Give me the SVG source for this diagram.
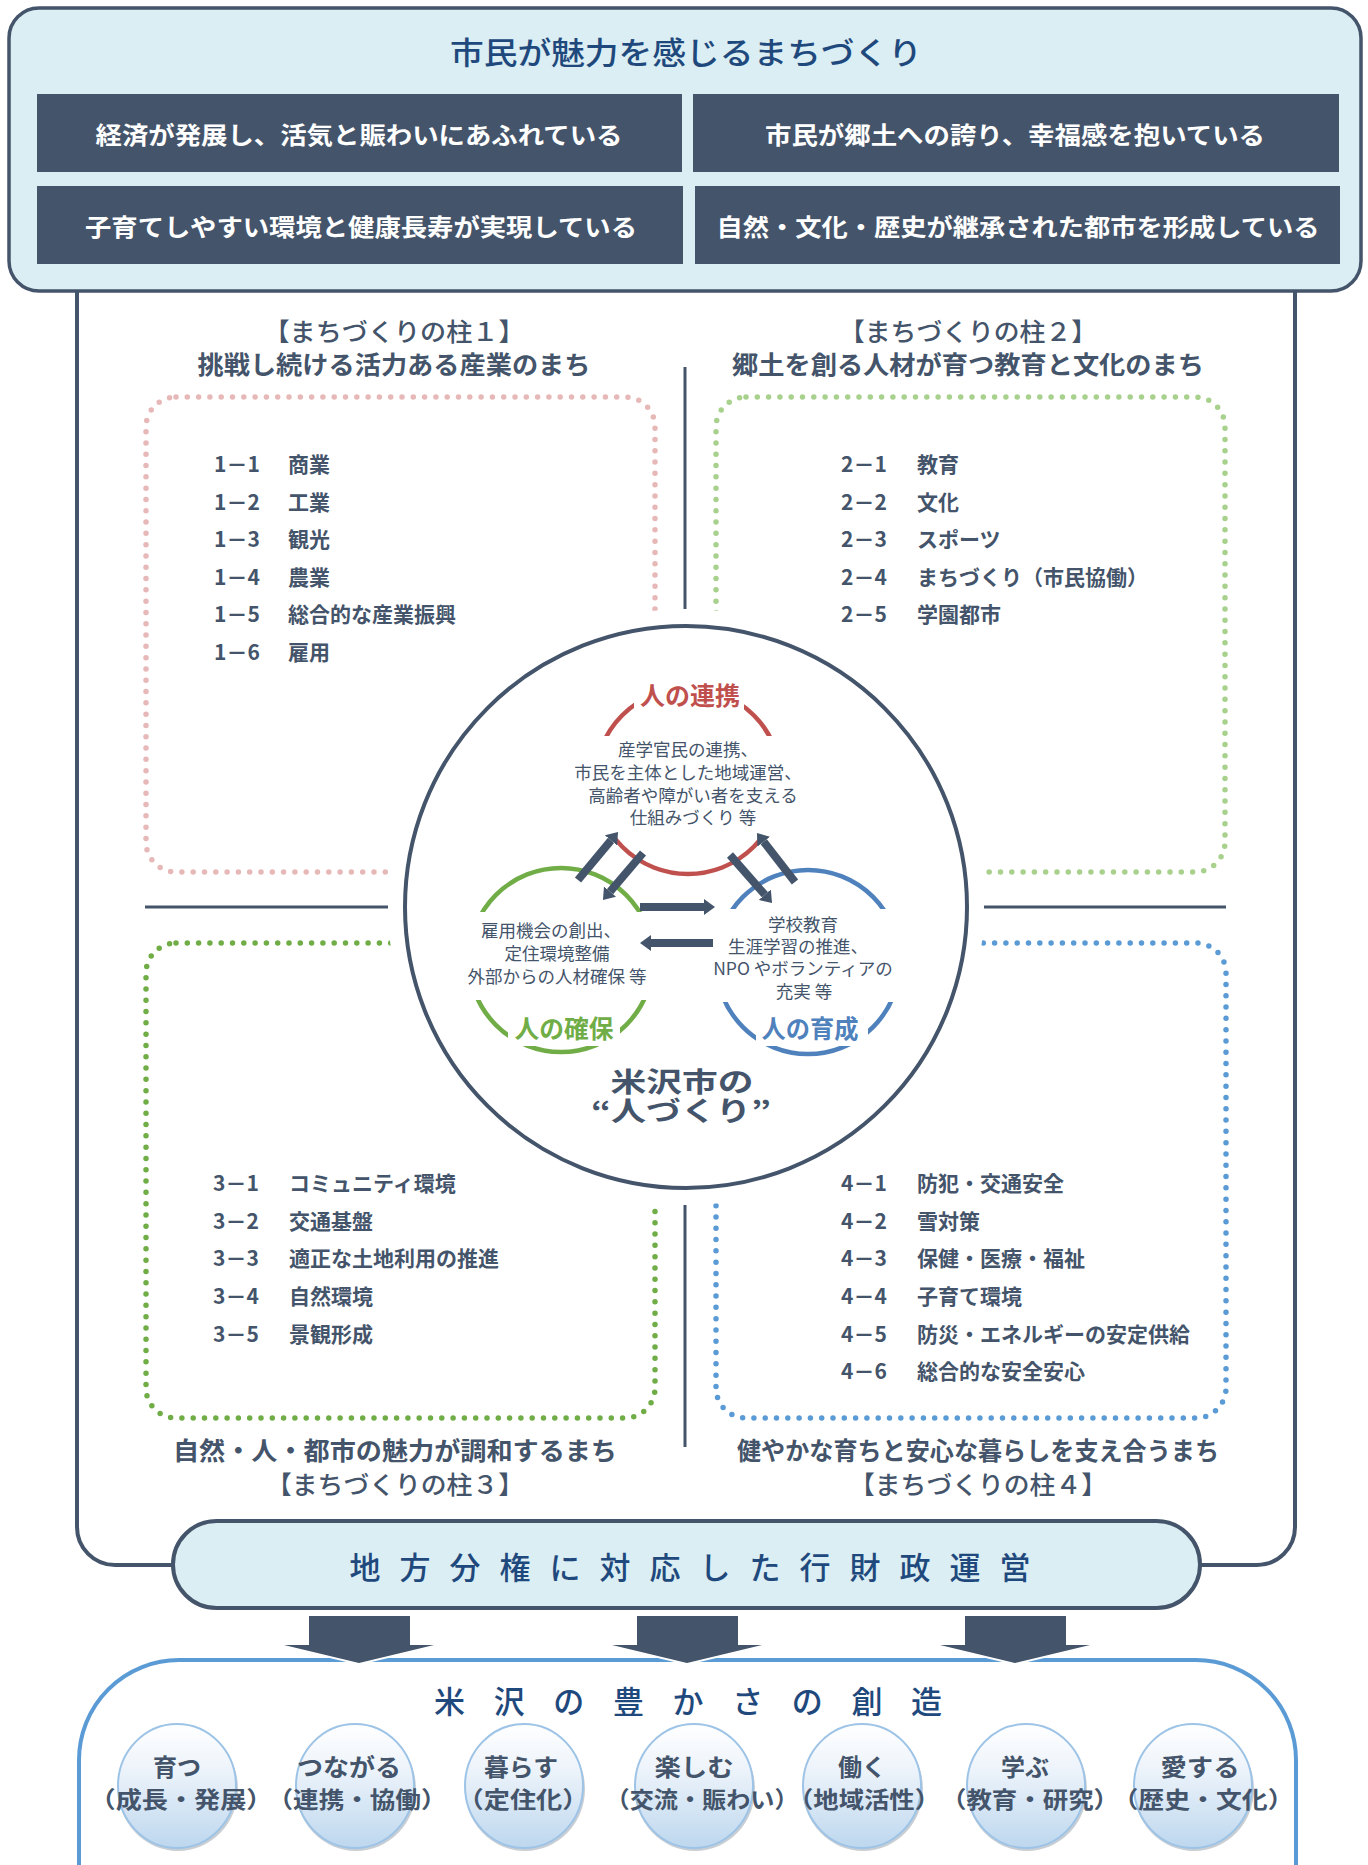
<svg xmlns="http://www.w3.org/2000/svg" width="1368" height="1865" viewBox="0 0 1368 1865">
<defs>
<style>
text{font-family:"Noto Sans CJK JP","Noto Sans CJK SC",sans-serif;dominant-baseline:central;}
.ttl{fill:#1f497d;font-size:31px;font-weight:500;text-anchor:middle;}
.goal{fill:#ffffff;font-size:24px;font-weight:bold;text-anchor:middle;}
.goalbox{fill:#44546a;}
.h1{fill:#44546a;font-size:25px;font-weight:500;text-anchor:middle;}
.h2{fill:#44546a;font-size:25px;font-weight:bold;text-anchor:middle;}
.item{fill:#44546a;font-size:21px;font-weight:bold;}
.dot{fill:none;stroke-width:5.5;stroke-linecap:round;stroke-dasharray:0 11.3;}
.div{stroke:#44546a;stroke-width:3;}
.desc{fill:#44546a;font-size:17.5px;text-anchor:middle;}
.lbl{font-size:25px;font-weight:bold;text-anchor:middle;}
.ring{fill:none;stroke-width:4.5;}
.wb{fill:#ffffff;}
.carrow{stroke:#44546a;stroke-width:8;marker-end:url(#ah);}
.darrow{fill:#44546a;stroke:#ffffff;stroke-width:4;paint-order:stroke;}
.bub{fill:url(#bubg);stroke:#9dc3e6;stroke-width:2;}
.bubsh{fill:#9aa5b1;opacity:0.55;}
.b1{fill:#44546a;font-size:24px;font-weight:bold;text-anchor:middle;}
.b2{fill:#44546a;font-size:23px;font-weight:bold;text-anchor:middle;}
</style>
<linearGradient id="bubg" x1="0" y1="0" x2="0" y2="1">
<stop offset="0" stop-color="#ffffff"/>
<stop offset="0.35" stop-color="#eef4fb"/>
<stop offset="1" stop-color="#bdd7ee"/>
</linearGradient>
<marker id="ah" viewBox="0 0 11 16" markerWidth="11" markerHeight="16" refX="0" refY="8" orient="auto" markerUnits="userSpaceOnUse">
<path d="M0,0 L11,8 L0,16 z" fill="#44546a"/>
</marker>
</defs>

<rect x="0" y="0" width="1368" height="1865" fill="#ffffff"/>

<g id="outer-frame">
<path d="M77,270 V1527 A38,38 0 0 0 115,1565 H1257 A38,38 0 0 0 1295,1527 V270" fill="#ffffff" stroke="#44546a" stroke-width="4"/>
</g>

<g id="top-box">
<rect x="9" y="8" width="1352" height="283" rx="30" fill="#daeef3" stroke="#44546a" stroke-width="3.5"/>
<text class="ttl" x="686" y="50" textLength="472" lengthAdjust="spacingAndGlyphs">市民が魅力を感じるまちづくり</text>
</g>
<g id="goal-1">
<rect class="goalbox" x="37" y="94" width="645" height="78"/>
<text class="goal" x="359" y="133" textLength="527" lengthAdjust="spacingAndGlyphs">経済が発展し、活気と賑わいにあふれている</text>
</g>
<g id="goal-2">
<rect class="goalbox" x="693" y="94" width="646" height="78"/>
<text class="goal" x="1015" y="133" textLength="500" lengthAdjust="spacingAndGlyphs">市民が郷土への誇り、幸福感を抱いている</text>
</g>
<g id="goal-3">
<rect class="goalbox" x="37" y="186" width="646" height="78"/>
<text class="goal" x="361" y="225" textLength="552" lengthAdjust="spacingAndGlyphs">子育てしやすい環境と健康長寿が実現している</text>
</g>
<g id="goal-4">
<rect class="goalbox" x="695" y="186" width="645" height="78"/>
<text class="goal" x="1018" y="225" textLength="603" lengthAdjust="spacingAndGlyphs">自然・文化・歴史が継承された都市を形成している</text>
</g>

<g id="dividers">
<line class="div" x1="685" y1="367" x2="685" y2="1447"/>
<line class="div" x1="145" y1="907" x2="1226" y2="907"/>
</g>

<g id="pillar-1">
<text class="h1" x="394" y="330" textLength="261" lengthAdjust="spacingAndGlyphs">【まちづくりの柱１】</text>
<text class="h2" x="394" y="363" textLength="393" lengthAdjust="spacingAndGlyphs">挑戦し続ける活力ある産業のまち</text>
<rect class="dot" x="146" y="397" width="509" height="475" rx="30" stroke="#e6b9b8"/>
<text class="item" y="463"><tspan x="214">1－1</tspan><tspan x="288">商業</tspan></text>
<text class="item" y="501"><tspan x="214">1－2</tspan><tspan x="288">工業</tspan></text>
<text class="item" y="538"><tspan x="214">1－3</tspan><tspan x="288">観光</tspan></text>
<text class="item" y="576"><tspan x="214">1－4</tspan><tspan x="288">農業</tspan></text>
<text class="item" y="613"><tspan x="214">1－5</tspan><tspan x="288">総合的な産業振興</tspan></text>
<text class="item" y="651"><tspan x="214">1－6</tspan><tspan x="288">雇用</tspan></text>
</g>

<g id="pillar-2">
<text class="h1" x="968" y="330" textLength="258" lengthAdjust="spacingAndGlyphs">【まちづくりの柱２】</text>
<text class="h2" x="968" y="363" textLength="472" lengthAdjust="spacingAndGlyphs">郷土を創る人材が育つ教育と文化のまち</text>
<rect class="dot" x="716" y="397" width="509" height="475" rx="30" stroke="#a9d18e"/>
<text class="item" y="463"><tspan x="841">2－1</tspan><tspan x="917">教育</tspan></text>
<text class="item" y="501"><tspan x="841">2－2</tspan><tspan x="917">文化</tspan></text>
<text class="item" y="538"><tspan x="841">2－3</tspan><tspan x="917">スポーツ</tspan></text>
<text class="item" y="576"><tspan x="841">2－4</tspan><tspan x="917">まちづくり（市民協働）</tspan></text>
<text class="item" y="613"><tspan x="841">2－5</tspan><tspan x="917">学園都市</tspan></text>
</g>

<g id="pillar-3">
<rect class="dot" x="146" y="943" width="509" height="475" rx="30" stroke="#70ad47"/>
<text class="item" y="1182"><tspan x="213">3－1</tspan><tspan x="289">コミュニティ環境</tspan></text>
<text class="item" y="1220"><tspan x="213">3－2</tspan><tspan x="289">交通基盤</tspan></text>
<text class="item" y="1257"><tspan x="213">3－3</tspan><tspan x="289">適正な土地利用の推進</tspan></text>
<text class="item" y="1295"><tspan x="213">3－4</tspan><tspan x="289">自然環境</tspan></text>
<text class="item" y="1333"><tspan x="213">3－5</tspan><tspan x="289">景観形成</tspan></text>
<text class="h2" x="395" y="1449" textLength="444" lengthAdjust="spacingAndGlyphs">自然・人・都市の魅力が調和するまち</text>
<text class="h1" x="395" y="1483" textLength="258" lengthAdjust="spacingAndGlyphs">【まちづくりの柱３】</text>
</g>

<g id="pillar-4">
<rect class="dot" x="716" y="943" width="510" height="475" rx="30" stroke="#5b9bd5"/>
<text class="item" y="1182"><tspan x="841">4－1</tspan><tspan x="917">防犯・交通安全</tspan></text>
<text class="item" y="1220"><tspan x="841">4－2</tspan><tspan x="917">雪対策</tspan></text>
<text class="item" y="1257"><tspan x="841">4－3</tspan><tspan x="917">保健・医療・福祉</tspan></text>
<text class="item" y="1295"><tspan x="841">4－4</tspan><tspan x="917">子育て環境</tspan></text>
<text class="item" y="1333"><tspan x="841">4－5</tspan><tspan x="917">防災・エネルギーの安定供給</tspan></text>
<text class="item" y="1370"><tspan x="841">4－6</tspan><tspan x="917">総合的な安全安心</tspan></text>
<text class="h2" x="978" y="1449" textLength="482" lengthAdjust="spacingAndGlyphs">健やかな育ちと安心な暮らしを支え合うまち</text>
<text class="h1" x="978" y="1483" textLength="258" lengthAdjust="spacingAndGlyphs">【まちづくりの柱４】</text>
</g>

<g id="center">
<circle cx="686" cy="907" r="298" fill="#ffffff"/>
<circle cx="686" cy="907" r="281" fill="#ffffff" stroke="#44546a" stroke-width="4"/>
<circle class="ring" cx="688" cy="781" r="93" stroke="#c0504d"/>
<circle class="ring" cx="561" cy="960" r="92" stroke="#70ad47"/>
<circle class="ring" cx="808" cy="962" r="92" stroke="#4f81bd"/>
<rect class="wb" x="568" y="736" width="244" height="102"/>
<rect class="wb" x="634" y="676" width="110" height="34"/>
<rect class="wb" x="452" y="912" width="210" height="88"/>
<rect class="wb" x="508" y="1010" width="112" height="36"/>
<rect class="wb" x="700" y="909" width="210" height="93"/>
<rect class="wb" x="756" y="1010" width="112" height="36"/>
</g>

<g id="node-renkei">
<text class="lbl" x="690" y="694" fill="#c0504d" textLength="100" lengthAdjust="spacingAndGlyphs">人の連携</text>
<text class="desc" x="688" y="748">産学官民の連携、</text>
<text class="desc" x="688" y="771">市民を主体とした地域運営、</text>
<text class="desc" x="693" y="794">高齢者や障がい者を支える</text>
<text class="desc" x="693" y="816">仕組みづくり 等</text>
</g>
<g id="node-kakuho">
<text class="desc" x="551" y="929">雇用機会の創出、</text>
<text class="desc" x="557" y="952">定住環境整備</text>
<text class="desc" x="557" y="975">外部からの人材確保 等</text>
<text class="lbl" x="564" y="1027" fill="#70ad47" textLength="99" lengthAdjust="spacingAndGlyphs">人の確保</text>
</g>
<g id="node-ikusei">
<text class="desc" x="803" y="923">学校教育</text>
<text class="desc" x="798" y="945">生涯学習の推進、</text>
<text class="desc" x="803" y="967">NPO やボランティアの</text>
<text class="desc" x="804" y="990">充実 等</text>
<text class="lbl" x="810" y="1027" fill="#4f81bd" textLength="97" lengthAdjust="spacingAndGlyphs">人の育成</text>
</g>
<g id="node-hitozukuri">
<text x="682" y="1080" fill="#44546a" font-size="27" font-weight="bold" text-anchor="middle" textLength="143" lengthAdjust="spacingAndGlyphs">米沢市の</text>
<text x="681" y="1109" fill="#44546a" font-size="27" font-weight="bold" text-anchor="middle" textLength="180" lengthAdjust="spacingAndGlyphs">“人づくり”</text>
</g>

<g id="pill">
<rect x="173" y="1521" width="1027" height="87" rx="43.5" fill="#daeef3" stroke="#44546a" stroke-width="4"/>
<text class="ttl" x="690" y="1565" font-size="32" textLength="681" lengthAdjust="spacing">地方分権に対応した行財政運営</text>
</g>

<g id="bottom-box">
<rect x="79" y="1660" width="1217" height="330" rx="100" fill="#ffffff" stroke="#5b9bd5" stroke-width="4"/>
<text class="ttl" x="688" y="1699" font-size="30" textLength="508" lengthAdjust="spacing">米沢の豊かさの創造</text>
</g>

<g id="bubble-1">
<ellipse class="bubsh" cx="178" cy="1789" rx="60" ry="62"/>
<ellipse class="bub" cx="177" cy="1786" rx="59" ry="62"/>
<text class="b1" x="177" y="1765">育つ</text>
<text class="b2" x="181" y="1798" textLength="183" lengthAdjust="spacingAndGlyphs">（成長・発展）</text>
</g>
<g id="bubble-2">
<ellipse class="bubsh" cx="356" cy="1789" rx="60" ry="62"/>
<ellipse class="bub" cx="355" cy="1786" rx="59" ry="62"/>
<text class="b1" x="349" y="1765" textLength="104" lengthAdjust="spacingAndGlyphs">つながる</text>
<text class="b2" x="357" y="1798" textLength="179" lengthAdjust="spacingAndGlyphs">（連携・協働）</text>
</g>
<g id="bubble-3">
<ellipse class="bubsh" cx="525" cy="1789" rx="60" ry="62"/>
<ellipse class="bub" cx="524" cy="1786" rx="59" ry="62"/>
<text class="b1" x="521" y="1765" textLength="74" lengthAdjust="spacingAndGlyphs">暮らす</text>
<text class="b2" x="523" y="1798" textLength="131" lengthAdjust="spacingAndGlyphs">（定住化）</text>
</g>
<g id="bubble-4">
<ellipse class="bubsh" cx="695" cy="1789" rx="60" ry="62"/>
<ellipse class="bub" cx="694" cy="1786" rx="59" ry="62"/>
<text class="b1" x="694" y="1765" textLength="79" lengthAdjust="spacingAndGlyphs">楽しむ</text>
<text class="b2" x="702" y="1798" textLength="193" lengthAdjust="spacingAndGlyphs">（交流・賑わい）</text>
</g>
<g id="bubble-5">
<ellipse class="bubsh" cx="863" cy="1789" rx="60" ry="62"/>
<ellipse class="bub" cx="862" cy="1786" rx="59" ry="62"/>
<text class="b1" x="862" y="1765">働く</text>
<text class="b2" x="864" y="1798" textLength="152" lengthAdjust="spacingAndGlyphs">（地域活性）</text>
</g>
<g id="bubble-6">
<ellipse class="bubsh" cx="1027" cy="1789" rx="60" ry="62"/>
<ellipse class="bub" cx="1026" cy="1786" rx="59" ry="62"/>
<text class="b1" x="1025" y="1765">学ぶ</text>
<text class="b2" x="1030" y="1798" textLength="178" lengthAdjust="spacingAndGlyphs">（教育・研究）</text>
</g>
<g id="bubble-7">
<ellipse class="bubsh" cx="1194" cy="1789" rx="60" ry="62"/>
<ellipse class="bub" cx="1193" cy="1786" rx="59" ry="62"/>
<text class="b1" x="1200" y="1765" textLength="79" lengthAdjust="spacingAndGlyphs">愛する</text>
<text class="b2" x="1203" y="1798" textLength="181" lengthAdjust="spacingAndGlyphs">（歴史・文化）</text>
</g>

<g id="connectors">
<line class="carrow" x1="578" y1="880" x2="611" y2="840.4"/>
<line class="carrow" x1="643" y1="853" x2="610.1" y2="891.6"/>
<line class="carrow" x1="730" y1="855" x2="764.8" y2="894.7"/>
<line class="carrow" x1="795" y1="882" x2="763.7" y2="841.7"/>
<line class="carrow" x1="640" y1="907" x2="704" y2="907"/>
<line class="carrow" x1="713" y1="943" x2="651" y2="943"/>
<polygon class="darrow" points="309,1616 410,1616 410,1645 434,1645 359,1663 284,1645 309,1645"/>
<polygon class="darrow" points="637,1616 738,1616 738,1645 762,1645 687,1663 612,1645 637,1645"/>
<polygon class="darrow" points="965,1616 1066,1616 1066,1645 1090,1645 1015,1663 940,1645 965,1645"/>
</g>
</svg>
